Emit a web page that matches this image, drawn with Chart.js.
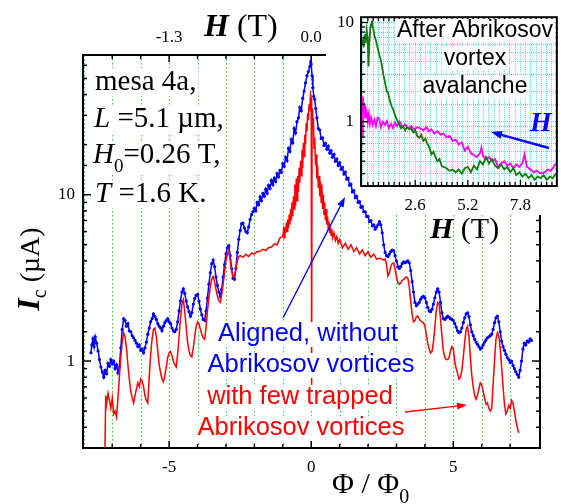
<!DOCTYPE html>
<html>
<head>
<meta charset="utf-8">
<script src="https://cdn.jsdelivr.net/npm/chart.js@4.4.1/dist/chart.umd.min.js"></script>
<style>
  body { margin: 0; background: #fff; }
  #wrap { position: relative; width: 561px; height: 504px; overflow: hidden; }
  canvas { position: absolute; top: 0; }
  #mainChart { left: 0; }
  #insetChart { left: 325px; }
</style>
</head>
<body>
<div id="wrap">
  <canvas id="mainChart" width="561" height="504"></canvas>
  <canvas id="insetChart" width="236" height="250"></canvas>
</div>
<script>
const SERIF = 'Liberation Serif';
const SANS = 'Liberation Sans';

// tick labels
const phiTicks = [-5, 0, 5];
const fieldTicks = ['-1.3', '0.0', '1.3'];
const currentTicks = [1, 10];
const insetFieldTicks = [2.6, 5.2, 7.8];
const insetCurrentTicks = [1, 10];

// aligned field, no Abrikosov vortices (blue)
const blueX = [
  -7.75,-7.72,-7.68,-7.64,-7.60,-7.55,-7.50,-7.45,-7.40,-7.35,
  -7.30,-7.25,-7.20,-7.15,-7.10,-7.05,-7.00,-6.95,-6.90,-6.85,
  -6.80,-6.75,-6.70,-6.65,-6.60,-6.55,-6.50,-6.45,-6.40,-6.35,
  -6.30,-6.25,-6.20,-6.15,-6.10,-6.05,-6.00,-5.95,-5.90,-5.85,
  -5.80,-5.75,-5.70,-5.65,-5.60,-5.55,-5.50,-5.45,-5.40,-5.35,
  -5.30,-5.25,-5.20,-5.15,-5.10,-5.05,-5.00,-4.95,-4.90,-4.85,
  -4.80,-4.75,-4.70,-4.65,-4.60,-4.55,-4.50,-4.45,-4.40,-4.35,
  -4.30,-4.25,-4.20,-4.15,-4.10,-4.05,-4.00,-3.95,-3.90,-3.85,
  -3.80,-3.75,-3.70,-3.65,-3.60,-3.55,-3.50,-3.45,-3.40,-3.35,
  -3.30,-3.25,-3.20,-3.15,-3.10,-3.05,-3.00,-2.95,-2.90,-2.85,
  -2.80,-2.75,-2.70,-2.65,-2.60,-2.55,-2.50,-2.45,-2.40,-2.35,
  -2.30,-2.25,-2.20,-2.15,-2.10,-2.05,
  -2.00,-1.95,-1.90,-1.85,-1.80,-1.75,-1.70,-1.65,-1.60,-1.55,
  -1.50,-1.45,-1.40,-1.35,-1.30,-1.25,-1.20,-1.15,-1.10,-1.05,
  -1.00,-0.95,-0.90,-0.85,-0.80,-0.75,-0.70,-0.65,-0.60,-0.55,
  -0.50,-0.45,-0.40,-0.35,-0.30,-0.25,-0.20,-0.15,-0.10,-0.05,
  -0.02,0.00,0.03,0.06,0.09,0.12,0.16,0.20,0.25,0.30,
  0.35,0.40,0.45,0.50,0.55,0.60,0.65,0.70,0.75,0.80,
  0.85,0.90,0.95,1.00,1.05,1.10,1.15,1.20,1.25,1.30,
  1.35,1.40,1.45,1.50,1.55,1.60,1.65,1.70,1.75,1.80,
  1.85,1.90,1.95,2.00,2.05,2.10,2.15,2.20,2.25,2.30,
  2.35,2.40,2.45,2.50,2.55,2.60,2.65,2.70,2.75,2.80,
  2.85,2.90,2.95,3.00,3.05,3.10,3.15,3.20,3.25,3.30,
  3.35,3.40,3.45,3.50,3.55,3.60,3.65,3.70,3.75,3.80,
  3.85,3.90,3.95,4.00,4.05,4.10,4.15,4.20,4.25,4.30,
  4.35,4.40,4.45,4.50,4.55,4.60,4.65,4.70,4.75,4.80,
  4.85,4.90,4.95,5.00,5.05,5.10,5.15,5.20,5.25,5.30,
  5.35,5.40,5.45,5.50,5.55,5.60,5.65,5.70,5.75,5.80,
  5.85,5.90,5.95,6.00,6.05,6.10,6.15,6.20,6.25,6.30,
  6.35,6.40,6.45,6.50,6.55,6.60,6.65,6.70,6.75,6.80,
  6.85,6.90,6.95,7.00,7.05,7.10,7.15,7.20,7.25,7.30,
  7.35,7.40,7.45,7.50,7.55,7.60,7.65,7.70,7.75
];
const blueY = [
  1.12,1.25,1.36,1.22,1.40,1.28,1.15,1.02,0.92,0.86,
  0.80,0.88,0.84,0.97,0.93,1.02,0.96,1.00,0.90,0.95,
  0.85,0.92,1.20,1.55,1.80,1.75,1.62,1.68,1.52,1.50,
  1.42,1.38,1.33,1.28,1.22,1.25,1.16,1.18,1.12,1.20,
  1.30,1.45,1.58,1.72,1.80,1.92,1.85,1.78,1.68,1.62,
  1.58,1.52,1.62,1.70,1.75,1.80,1.72,1.68,1.58,1.52,
  1.50,1.55,1.72,2.00,2.30,2.60,2.72,2.55,2.30,2.12,
  1.98,1.86,1.95,2.20,2.38,2.48,2.52,2.30,2.05,1.90,
  1.78,1.75,2.00,2.40,2.90,3.40,3.85,4.05,3.70,3.20,
  2.85,2.60,2.45,2.70,3.20,3.80,4.40,4.80,4.95,4.30,
  3.60,3.15,3.10,3.60,4.50,5.40,6.10,6.70,6.75,6.30,
  6.00,5.90,6.40,7.10,7.60,7.90,
  8.3,8.0,9.0,8.7,9.7,9.2,10.2,9.8,10.8,10.2,
  11.4,10.9,12.2,11.5,12.6,12.0,13.4,12.8,14.0,13.6,
  15.4,14.8,16.8,16.0,19.0,18.2,21.5,20.5,25.0,23.5,
  27.5,29.0,33.5,32.0,38.0,42.0,47.0,52.0,55.0,59.0,
  63.0,61.0,52.0,44.0,39.0,37.5,33.0,29.0,25.0,24.5,
  21.8,22.0,19.8,20.4,18.8,19.6,17.8,18.4,16.8,17.5,
  15.9,16.4,15.0,15.6,14.2,14.6,13.3,13.7,12.4,12.6,
  11.4,11.6,10.4,10.6,9.6,9.8,9.0,9.1,8.4,8.5,
  7.9,7.9,7.4,7.4,6.9,7.0,6.5,6.6,6.2,6.4,
  6.6,6.9,6.6,5.9,5.0,4.5,4.3,4.25,4.4,4.55,
  4.65,4.6,4.3,4.0,3.7,3.6,3.7,3.85,3.95,3.9,
  3.95,4.0,3.9,3.5,3.0,2.6,2.25,2.15,2.2,2.25,
  2.35,2.42,2.45,2.4,2.25,2.1,2.0,1.98,2.05,2.2,
  2.4,2.6,2.72,2.6,2.25,1.95,1.8,1.78,1.82,1.86,
  1.84,1.8,1.78,1.75,1.68,1.6,1.52,1.48,1.5,1.58,
  1.7,1.82,1.92,1.95,1.85,1.65,1.5,1.42,1.35,1.3,
  1.26,1.22,1.18,1.2,1.25,1.3,1.34,1.38,1.4,1.42,
  1.45,1.55,1.7,1.82,1.86,1.72,1.5,1.32,1.22,1.16,
  1.1,1.05,1.02,0.98,1.0,0.94,0.9,0.86,0.83,0.8,
  0.88,1.0,1.18,1.28,1.25,1.32,1.3,1.36,1.33
];

// with few trapped Abrikosov vortices (red)
const redX = [
  -7.26,-7.23,-7.20,-7.15,-7.10,-7.05,-7.00,-6.95,-6.90,-6.85,
  -6.80,-6.75,-6.70,-6.65,-6.60,-6.55,-6.50,-6.45,-6.40,-6.35,
  -6.30,-6.25,-6.20,-6.15,-6.10,-6.05,-6.00,-5.95,-5.90,-5.85,
  -5.80,-5.75,-5.70,-5.65,-5.60,-5.55,-5.50,-5.45,-5.40,-5.35,
  -5.30,-5.25,-5.20,-5.15,-5.10,-5.05,-5.00,-4.95,-4.90,-4.85,
  -4.80,-4.75,-4.70,-4.65,-4.60,-4.55,-4.50,-4.45,-4.40,-4.35,
  -4.30,-4.25,-4.20,-4.15,-4.10,-4.05,-4.00,-3.95,-3.90,-3.85,
  -3.80,-3.75,-3.70,-3.65,-3.60,-3.55,-3.50,-3.45,-3.40,-3.35,
  -3.30,-3.25,-3.20,-3.15,-3.10,-3.05,-3.00,-2.95,-2.90,-2.85,
  -2.80,-2.75,-2.70,-2.65,-2.60,-2.55,-2.50,-2.40,-2.30,-2.20,
  -2.10,-2.00,-1.90,-1.80,-1.70,-1.60,-1.50,-1.40,-1.30,-1.20,
  -1.10,-1.000,-0.975,-0.950,-0.925,-0.900,-0.875,-0.850,-0.825,-0.800,
  -0.775,-0.750,-0.725,-0.700,-0.675,-0.650,-0.625,-0.600,-0.575,-0.550,
  -0.525,-0.500,-0.475,-0.450,-0.425,-0.400,-0.375,-0.350,-0.325,-0.300,
  -0.275,-0.250,-0.225,-0.200,-0.175,-0.150,-0.125,-0.100,-0.075,-0.050,
  -0.025,0.000,0.015,0.030,0.050,0.075,0.100,0.125,0.150,0.175,
  0.200,0.225,0.250,0.275,0.300,0.325,0.350,0.375,0.400,0.425,
  0.450,0.475,0.500,0.525,0.550,0.575,0.600,0.625,0.650,0.675,
  0.700,0.725,0.750,0.800,0.850,0.900,0.950,1.000,1.10,1.20,
  1.30,
  1.40,1.50,1.60,1.70,1.80,1.90,2.00,2.10,2.20,2.30,
  2.40,2.50,2.55,2.60,2.65,2.70,2.75,2.80,2.85,2.90,
  2.95,3.00,3.05,3.10,3.15,3.20,3.25,3.30,3.35,3.40,
  3.45,3.50,3.55,3.60,3.65,3.70,3.75,3.80,3.85,3.90,
  3.95,4.00,4.05,4.10,4.15,4.20,4.25,4.30,4.35,4.40,
  4.45,4.50,4.55,4.60,4.65,4.70,4.75,4.80,4.85,4.90,
  4.95,5.00,5.05,5.10,5.15,5.20,5.25,5.30,5.35,5.40,
  5.45,5.50,5.55,5.60,5.65,5.70,5.75,5.80,5.85,5.90,
  5.95,6.00,6.05,6.10,6.15,6.20,6.25,6.30,6.35,6.40,
  6.45,6.50,6.55,6.60,6.65,6.70,6.75,6.80,6.85,6.90,
  6.95,7.00,7.05,7.10,7.15,7.20,7.25,7.30
];
const redY = [
  0.28,0.62,0.55,0.64,0.58,0.52,0.60,0.48,0.50,0.46,
  0.60,0.80,1.05,1.30,1.48,1.40,1.20,0.95,0.78,0.66,
  0.60,0.56,0.62,0.68,0.74,0.70,0.78,0.76,0.70,0.62,
  0.58,0.56,0.80,1.10,1.35,1.55,1.58,1.40,1.15,0.95,
  0.85,0.78,0.75,0.82,0.92,1.05,1.12,1.14,1.08,1.00,
  0.95,0.92,1.10,1.40,1.80,2.20,2.34,2.00,1.60,1.30,
  1.15,1.08,1.06,1.20,1.40,1.60,1.72,1.68,1.55,1.45,
  1.38,1.35,1.60,2.00,2.40,2.80,3.10,3.22,3.00,2.70,
  2.45,2.30,2.25,2.50,2.90,3.40,4.00,4.40,4.60,4.00,
  3.50,3.20,3.25,3.60,4.00,4.25,4.30,4.20,4.38,4.25,
  4.45,4.40,4.55,4.55,4.70,4.62,4.80,4.85,5.05,5.00,
  5.5,5.6,6.1,5.5,6.4,5.9,6.8,6.0,7.1,6.3,
  7.6,6.6,8.2,7.0,9.0,7.4,9.8,8.2,11.5,8.6,
  12.5,9.2,13.0,10.4,14.5,11.8,16.0,13.0,18.5,14.5,
  20.5,17.0,23.0,20.0,27.0,24.0,31.0,28.0,35.0,32.0,
  40.0,38.0,0.60,33.0,26.0,29.0,19.0,22.0,15.0,17.5,
  12.5,15.0,11.0,13.0,9.8,12.0,9.0,11.5,8.2,10.0,
  7.6,9.0,7.0,8.2,6.6,7.4,6.2,6.9,5.9,6.5,
  5.7,6.2,5.5,5.9,5.3,5.6,5.1,5.4,4.8,5.1,
  4.7,
  5.0,4.55,4.8,4.4,4.65,4.3,4.55,4.2,4.4,4.1,
  4.15,4.1,4.05,4.1,3.8,3.25,3.4,3.7,3.85,3.9,
  3.6,3.2,2.95,2.9,2.95,3.05,3.1,3.15,3.2,3.15,
  2.8,2.3,1.9,1.72,1.75,1.85,1.86,1.8,1.74,1.72,
  1.7,1.62,1.45,1.28,1.18,1.12,1.14,1.3,1.6,2.0,
  2.25,2.2,1.8,1.4,1.15,1.05,1.02,1.02,1.05,1.15,
  1.22,1.18,1.0,0.9,0.84,0.78,0.8,0.88,1.05,1.3,
  1.55,1.62,1.4,1.05,0.82,0.7,0.62,0.59,0.62,0.68,
  0.74,0.72,0.66,0.6,0.55,0.56,0.52,0.5,0.52,0.72,
  1.0,1.35,1.48,1.42,1.2,0.92,0.7,0.55,0.48,0.5,
  0.54,0.52,0.58,0.56,0.5,0.44,0.4,0.37
];

// inset: after Abrikosov vortex avalanche, Ic vs H
const greenX = [
  0.00,0.05,0.10,0.15,0.20,0.25,0.29,0.33,0.38,0.42,
  0.46,0.50,0.55,0.60,0.66,0.72,0.78,0.84,0.90,0.96,
  1.02,1.08,1.14,1.20,1.26,1.32,1.38,1.44,1.50,1.58,
  1.66,1.74,1.82,1.90,2.00,2.10,2.20,2.30,2.40,2.50,
  2.60,2.70,2.80,2.90,3.00,3.10,3.20,3.30,3.40,3.50,
  3.60,3.70,3.80,3.90,4.00,4.15,4.30,4.45,4.60,4.75,
  4.90,5.05,5.20,5.35,5.50,5.65,5.80,5.95,6.10,6.25,
  6.40,6.55,6.70,6.85,7.00,7.15,7.30,7.45,7.60,7.75,
  7.90,8.05,8.20,8.35,8.50,8.65,8.80,8.95,9.10,9.25,
  9.40,9.55
];
const greenY = [
  6.8,5.6,7.6,6.2,8.3,7.0,3.6,6.0,8.8,9.6,
  10.4,9.0,8.2,7.1,6.6,5.8,5.2,4.6,4.2,3.6,
  3.0,2.66,2.3,2.0,1.97,1.7,1.55,1.42,1.35,1.2,
  1.08,1.0,0.92,0.86,0.9,0.82,0.88,0.84,0.86,0.78,
  0.82,0.72,0.69,0.74,0.64,0.68,0.60,0.55,0.47,0.50,
  0.44,0.40,0.42,0.36,0.35,0.34,0.32,0.33,0.31,0.33,
  0.30,0.34,0.35,0.31,0.36,0.33,0.40,0.37,0.44,0.38,
  0.42,0.36,0.34,0.37,0.33,0.35,0.31,0.34,0.29,0.31,
  0.28,0.30,0.27,0.29,0.26,0.28,0.27,0.29,0.26,0.28,
  0.27,0.30
];
const magentaX = [
  0.00,0.01,0.04,0.08,0.12,0.16,0.21,0.26,0.31,0.36,
  0.42,0.50,0.58,0.66,0.74,0.82,0.90,1.00,1.10,1.20,
  1.30,1.40,1.50,1.60,1.70,1.83,1.96,2.10,2.25,2.40,
  2.55,2.70,2.85,3.00,3.15,3.28,3.40,3.55,3.70,3.85,
  4.00,4.15,4.30,4.45,4.60,4.75,4.90,5.05,5.20,5.35,
  5.50,5.65,5.80,5.87,5.95,6.10,6.25,6.40,6.55,6.70,
  6.85,7.00,7.15,7.30,7.45,7.60,7.75,7.90,8.00,8.13,
  8.30,8.45,8.60,8.80,9.00,9.15,9.30,9.44,9.55
];
const magentaY = [
  0.70,1.80,1.30,1.55,1.10,1.35,1.25,1.00,1.20,0.95,
  1.10,0.93,1.05,0.90,1.10,1.08,0.88,1.00,0.93,1.02,
  0.86,0.95,0.86,0.98,0.90,1.00,0.88,0.94,0.86,0.90,
  0.84,0.88,0.86,0.82,0.88,0.80,0.84,0.76,0.80,0.74,
  0.76,0.70,0.72,0.64,0.66,0.59,0.62,0.51,0.56,0.48,
  0.46,0.44,0.48,0.55,0.45,0.42,0.44,0.40,0.42,0.35,
  0.38,0.40,0.36,0.38,0.34,0.37,0.35,0.38,0.47,0.35,
  0.33,0.31,0.32,0.30,0.31,0.33,0.32,0.35,0.38
];

function toPoints(xs, ys) {
  return xs.map((x, i) => ({ x: x, y: ys[i] }));
}

// parts: [text, font, dy]
function drawRich(ctx, parts, x, y, align, bg) {
  let w = 0;
  parts.forEach(p => { ctx.font = p[1]; w += ctx.measureText(p[0]).width; });
  let cx = align === 'center' ? x - w / 2 : x;
  if (bg) {
    const fs = ctx.fillStyle;
    ctx.fillStyle = '#fff';
    ctx.fillRect(cx - 2, y - bg[0], w + 4, bg[0] + bg[1]);
    ctx.fillStyle = fs;
  }
  ctx.textAlign = 'left';
  ctx.textBaseline = 'alphabetic';
  parts.forEach(p => {
    ctx.font = p[1];
    ctx.fillText(p[0], cx, y + (p[2] || 0));
    cx += ctx.measureText(p[0]).width;
  });
}

function arrow(ctx, x1, y1, x2, y2, color, lw, hl, hw) {
  const ang = Math.atan2(y2 - y1, x2 - x1);
  ctx.save();
  ctx.strokeStyle = color;
  ctx.fillStyle = color;
  ctx.lineWidth = lw;
  ctx.beginPath();
  ctx.moveTo(x1, y1);
  ctx.lineTo(x2 - Math.cos(ang) * hl * 0.8, y2 - Math.sin(ang) * hl * 0.8);
  ctx.stroke();
  ctx.translate(x2, y2);
  ctx.rotate(ang);
  ctx.beginPath();
  ctx.moveTo(0, 0);
  ctx.lineTo(-hl, hw / 2);
  ctx.lineTo(-hl, -hw / 2);
  ctx.closePath();
  ctx.fill();
  ctx.restore();
}

function inwardTicks(ctx, scale, side, a, isMajor, majorLen, minorLen) {
  scale.ticks.forEach(t => {
    const v = t.value;
    if (v < scale.min || v > scale.max) return;
    const p = scale.getPixelForValue(v);
    const horiz = side === 'top' || side === 'bottom';
    if (horiz && (p < a.left + 2 || p > a.right - 2)) return;
    if (!horiz && (p < a.top + 2 || p > a.bottom - 2)) return;
    const len = isMajor(v) ? majorLen : minorLen;
    ctx.beginPath();
    if (side === 'bottom') { ctx.moveTo(p, a.bottom); ctx.lineTo(p, a.bottom - len); }
    if (side === 'top') { ctx.moveTo(p, a.top); ctx.lineTo(p, a.top + len); }
    if (side === 'left') { ctx.moveTo(a.left, p); ctx.lineTo(a.left + len, p); }
    if (side === 'right') { ctx.moveTo(a.right, p); ctx.lineTo(a.right - len, p); }
    ctx.stroke();
  });
}

const isDecade = v => Math.abs(Math.log10(v) - Math.round(Math.log10(v))) < 1e-9;

const mainDecor = {
  id: 'mainDecor',
  beforeDatasetsDraw(chart) {
    const { ctx, chartArea: a, scales } = chart;
    ctx.save();
    // green dotted flux-quantum grid
    ctx.strokeStyle = '#22dd22';
    ctx.lineWidth = 1;
    ctx.setLineDash([1.5, 2.5]);
    scales.x.ticks.forEach(t => {
      const p = Math.round(scales.x.getPixelForValue(t.value)) + 0.5;
      ctx.beginPath();
      ctx.moveTo(p, a.top);
      ctx.lineTo(p, a.bottom);
      ctx.stroke();
    });
    ctx.setLineDash([]);
    ctx.strokeStyle = '#000';
    ctx.lineWidth = 1.5;
    const by5 = v => Math.abs(v % 5) < 1e-9;
    inwardTicks(ctx, scales.x, 'bottom', a, by5, 7, 4);
    inwardTicks(ctx, scales.x, 'top', a, by5, 7, 4);
    inwardTicks(ctx, scales.y, 'left', a, isDecade, 8, 4);
    inwardTicks(ctx, scales.y, 'right', a, isDecade, 8, 4);
    ctx.lineWidth = 2;
    ctx.strokeRect(a.left, a.top, a.right - a.left, a.bottom - a.top);
    // white panel behind the inset
    ctx.fillStyle = '#fff';
    ctx.fillRect(326, 0, chart.width - 326, 215);
    ctx.restore();
  },
  afterDatasetsDraw(chart) {
    const ctx = chart.ctx;
    ctx.save();
    ctx.fillStyle = '#000';
    const f = '29px ' + SERIF, fi = 'italic 29px ' + SERIF, fs = '19px ' + SERIF;
    const box = [22, 6];
    drawRich(ctx, [['mesa 4a,', f]], 95, 90, 'left', box);
    drawRich(ctx, [['L', fi], [' =5.1 \u00b5m,', f]], 94, 127, 'left', box);
    drawRich(ctx, [['H', fi], ['0', fs, 9], ['=0.26 T,', f]], 93, 163, 'left', [22, 12]);
    drawRich(ctx, [['T', fi], [' =1.6 K.', f]], 95, 202, 'left', box);

    const sans = '25.5px ' + SANS;
    const sb = [19, 6];
    ctx.fillStyle = '#0000ff';
    drawRich(ctx, [['Aligned, without', sans]], 308, 341, 'center', sb);
    drawRich(ctx, [['Abrikosov vortices', sans]], 311, 372, 'center', sb);
    ctx.fillStyle = '#ff0000';
    drawRich(ctx, [['with few trapped', sans]], 300, 404, 'center', sb);
    drawRich(ctx, [['Abrikosov vortices', sans]], 301, 435, 'center', sb);

    arrow(ctx, 283, 318, 345, 197, '#0000ff', 1.3, 10, 7);
    arrow(ctx, 405, 412, 467, 405, '#ff0000', 1.3, 10, 7);

    // axis titles
    ctx.fillStyle = '#000';
    drawRich(ctx, [['H', 'bold italic 32px ' + SERIF], [' (T)', '32px ' + SERIF]], 204, 36, 'left');
    drawRich(ctx, [['\u03a6 / \u03a6', '30px ' + SERIF], ['0', '20px ' + SERIF, 10]], 332, 493, 'left');
    ctx.translate(39, 269);
    ctx.rotate(-Math.PI / 2);
    drawRich(ctx, [['I', 'bold italic 32px ' + SERIF], ['c', '20px ' + SERIF, 7], [' (\u00b5A)', '28px ' + SERIF]], 0, 0, 'center');
    ctx.restore();
  }
};

const tickFont = { family: SERIF, size: 17 };

new Chart(document.getElementById('mainChart'), {
  type: 'scatter',
  data: {
    datasets: [
      { data: toPoints(redX, redY), showLine: true, borderColor: '#ff0000', borderWidth: 1.5, pointRadius: 0 },
      { data: toPoints(blueX, blueY), showLine: true, borderColor: '#0000ff', borderWidth: 1.5,
        pointRadius: 1.6, pointBackgroundColor: '#0000ff', pointBorderWidth: 0 }
    ]
  },
  options: {
    responsive: false,
    animation: false,
    devicePixelRatio: 1,
    layout: { padding: { left: 0, right: 21, top: 0, bottom: 0 } },
    plugins: { legend: { display: false }, tooltip: { enabled: false } },
    scales: {
      x: {
        type: 'linear', position: 'bottom', min: -8.03, max: 8.05,
        afterFit: s => { s.height = 56; },
        grid: { display: false, drawTicks: false },
        border: { display: false },
        ticks: { stepSize: 1, includeBounds: false, autoSkip: false, maxRotation: 0, padding: 9,
                 color: '#000', font: tickFont,
                 callback: v => phiTicks.includes(v) ? String(v) : '' }
      },
      x2: {
        type: 'linear', position: 'top', min: -8.03, max: 8.05,
        afterFit: s => { s.height = 55; },
        grid: { display: false, drawTicks: false },
        border: { display: false },
        ticks: { stepSize: 5, includeBounds: false, autoSkip: false, maxRotation: 0, padding: 7,
                 color: '#000', font: tickFont,
                 callback: v => { const i = phiTicks.indexOf(v); return i >= 0 ? fieldTicks[i] : ''; } }
      },
      y: {
        type: 'logarithmic', position: 'left', min: 0.302, max: 69.2,
        afterFit: s => { s.width = 83; },
        grid: { display: false, drawTicks: false },
        border: { display: false },
        ticks: { autoSkip: false, padding: 8, color: '#000', font: tickFont,
                 callback: v => currentTicks.includes(v) ? String(v) : '' }
      }
    }
  },
  plugins: [mainDecor]
});

const insetDecor = {
  id: 'insetDecor',
  beforeDraw(chart) {
    const { ctx, chartArea: a } = chart;
    ctx.save();
    ctx.fillStyle = '#fff';
    ctx.fillRect(a.left, a.top, a.right - a.left, a.bottom - a.top);
    ctx.restore();
  },
  afterDatasetsDraw(chart) {
    const { ctx, chartArea: a, scales } = chart;
    ctx.save();
    ctx.strokeStyle = '#000';
    ctx.lineWidth = 1.3;
    const labelled = v => insetFieldTicks.some(t => Math.abs(t - v) < 1e-6);
    inwardTicks(ctx, scales.x, 'bottom', a, labelled, 6, 4);
    inwardTicks(ctx, scales.x, 'top', a, labelled, 6, 4);
    inwardTicks(ctx, scales.y, 'left', a, isDecade, 7, 4);
    ctx.lineWidth = 2;
    ctx.strokeRect(a.left, a.top, a.right - a.left, a.bottom - a.top);

    ctx.fillStyle = '#000';
    const sans = '23px ' + SANS;
    drawRich(ctx, [['After Abrikosov', sans]], 150, 37, 'center', [18, 5]);
    drawRich(ctx, [['vortex', sans]], 150, 65, 'center', [18, 5]);
    drawRich(ctx, [['avalanche', sans]], 150, 93, 'center', [18, 5]);

    ctx.fillStyle = '#0000ff';
    drawRich(ctx, [['H', 'bold italic 28px ' + SERIF]], 205, 131, 'left');
    arrow(ctx, 224, 148, 166, 132, '#0000ff', 2.5, 11, 8);

    ctx.fillStyle = '#000';
    drawRich(ctx, [['H', 'bold italic 30px ' + SERIF], [' (T)', '30px ' + SERIF]], 105, 238, 'left');
    ctx.restore();
  }
};

new Chart(document.getElementById('insetChart'), {
  type: 'scatter',
  data: {
    datasets: [
      { data: toPoints(greenX, greenY), showLine: true, borderColor: '#0b7d0b', borderWidth: 1.8, pointRadius: 0 },
      { data: toPoints(magentaX, magentaY), showLine: true, borderColor: '#ff00ff', borderWidth: 1.8, pointRadius: 0 }
    ]
  },
  options: {
    responsive: false,
    animation: false,
    devicePixelRatio: 1,
    layout: { padding: { left: 0, right: 1, top: 12, bottom: 0 } },
    plugins: { legend: { display: false }, tooltip: { enabled: false } },
    scales: {
      x: {
        type: 'linear', min: -0.08, max: 9.6,
        afterFit: s => { s.height = 64; },
        grid: { color: '#49dcea', lineWidth: 1, drawTicks: false },
        border: { display: false, dash: [1, 1] },
        ticks: { stepSize: 0.26, includeBounds: false, autoSkip: false, maxRotation: 0, padding: 9,
                 color: '#000', font: tickFont,
                 callback: v => { const k = insetFieldTicks.find(t => Math.abs(t - v) < 1e-6); return k ? k.toFixed(1) : ''; } }
      },
      y: {
        type: 'logarithmic', min: 0.225, max: 11.3,
        afterFit: s => { s.width = 36; },
        grid: { color: '#49dcea', lineWidth: 1, drawTicks: false },
        border: { display: false, dash: [1, 1] },
        ticks: { autoSkip: false, padding: 7, color: '#000', font: tickFont,
                 callback: v => insetCurrentTicks.includes(v) ? String(v) : '' }
      }
    }
  },
  plugins: [insetDecor]
});
</script>
</body>
</html>
